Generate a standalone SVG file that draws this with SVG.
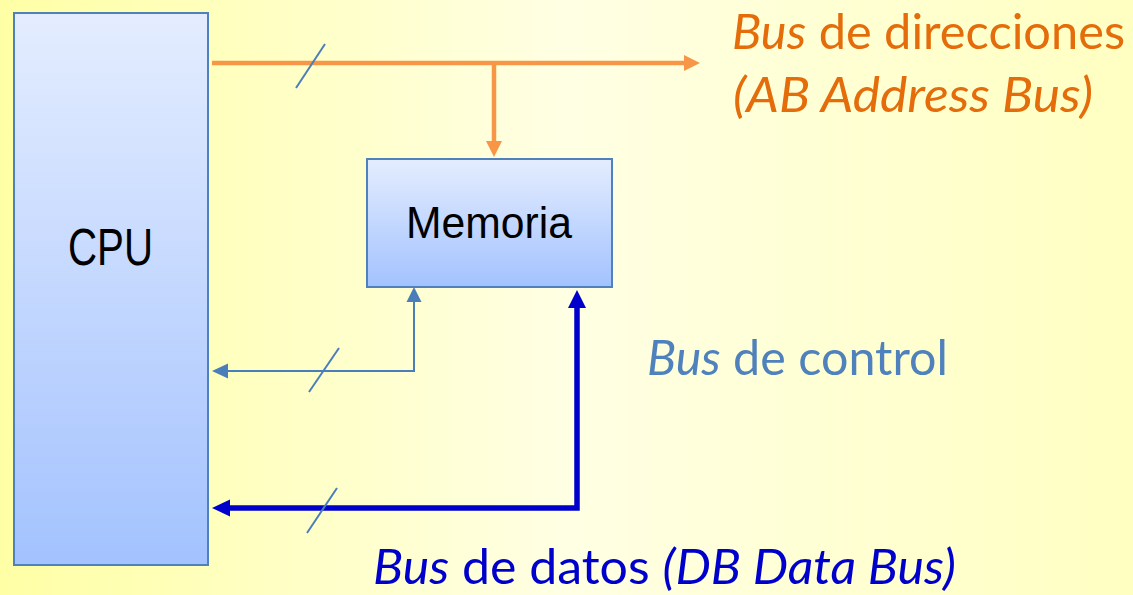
<svg xmlns="http://www.w3.org/2000/svg" width="1133" height="595" viewBox="0 0 1133 595">
  <defs>
    <linearGradient id="bg" x1="0" y1="0" x2="1" y2="0">
      <stop offset="0" stop-color="#FFFFA6"/>
      <stop offset="0.5" stop-color="#FFFFE4"/>
      <stop offset="1" stop-color="#FFFFC2"/>
    </linearGradient>
    <linearGradient id="boxFill" x1="0" y1="0" x2="0" y2="1">
      <stop offset="0" stop-color="#E4EDFF"/>
      <stop offset="1" stop-color="#A3C2FE"/>
    </linearGradient>
  </defs>
  <style>
    .box { fill: url(#boxFill); stroke: #4F81BD; stroke-width: 2; }
    .boxText { font-family: "Liberation Sans", Arial, sans-serif; fill: #000; }
    .lbl { font-family: Lato, "Open Sans", sans-serif; font-size: 49px; }
    .it { font-style: italic; }
    .addr { stroke: #F79646; stroke-width: 4.5; fill: none; }
    .addrHead { fill: #F79646; }
    .ctrl { stroke: #4A7EBB; stroke-width: 2; fill: none; }
    .ctrlHead { fill: #4A7EBB; }
    .data { stroke: #0000CC; stroke-width: 5.5; fill: none; }
    .dataHead { fill: #0000CC; }
    .slash { stroke: #4A7EBB; stroke-width: 2; }
  </style>

  <rect x="0" y="0" width="1133" height="595" fill="url(#bg)"/>

  <!-- processor -->
  <g id="cpu">
    <rect class="box" x="14" y="13" width="194" height="552"/>
    <text class="boxText" x="68" y="265" font-size="52" textLength="85" lengthAdjust="spacingAndGlyphs">CPU</text>
  </g>

  <!-- memory -->
  <g id="memoria">
    <rect class="box" x="367" y="159" width="245" height="128"/>
    <text class="boxText" x="406" y="238" font-size="45" textLength="166" lengthAdjust="spacingAndGlyphs">Memoria</text>
  </g>

  <!-- buses -->
  <g id="connectors">
    <!-- address bus -->
    <path class="addr" d="M212 63 H686"/>
    <polygon class="addrHead" points="700,63 684,55 684,71"/>
    <path class="addr" d="M494 63 V143"/>
    <polygon class="addrHead" points="494,157 486,141 502,141"/>
    <line class="slash" x1="296" y1="88" x2="325" y2="44"/>

    <!-- control bus -->
    <path class="ctrl" d="M226 371 H414 V300"/>
    <polygon class="ctrlHead" points="212,371 228,363.5 228,378.5"/>
    <polygon class="ctrlHead" points="414,287 406.5,302 421.5,302"/>
    <line class="slash" x1="309" y1="392" x2="339" y2="348"/>

    <!-- data bus -->
    <path class="data" d="M228 508 H577 V306"/>
    <polygon class="dataHead" points="212,508 230,499.5 230,516.5"/>
    <polygon class="dataHead" points="577,290 568,308 586,308"/>
    <line class="slash" x1="307" y1="533" x2="337" y2="488"/>
  </g>

  <!-- bus labels -->
  <g id="label-address" fill="#E46C0A">
    <text class="lbl" x="732" y="49" textLength="393" lengthAdjust="spacingAndGlyphs"><tspan class="it">Bus</tspan> de direcciones</text>
    <text class="lbl it" x="733" y="112" textLength="360" lengthAdjust="spacingAndGlyphs">(AB Address Bus)</text>
  </g>
  <g id="label-control" fill="#4F81BD">
    <text class="lbl" x="647" y="375" textLength="301" lengthAdjust="spacingAndGlyphs"><tspan class="it">Bus</tspan> de control</text>
  </g>
  <g id="label-data" fill="#0000CC">
    <text class="lbl" x="373" y="584" font-size="48" textLength="583" lengthAdjust="spacingAndGlyphs"><tspan class="it">Bus</tspan> de datos <tspan class="it">(DB Data Bus)</tspan></text>
  </g>
</svg>
